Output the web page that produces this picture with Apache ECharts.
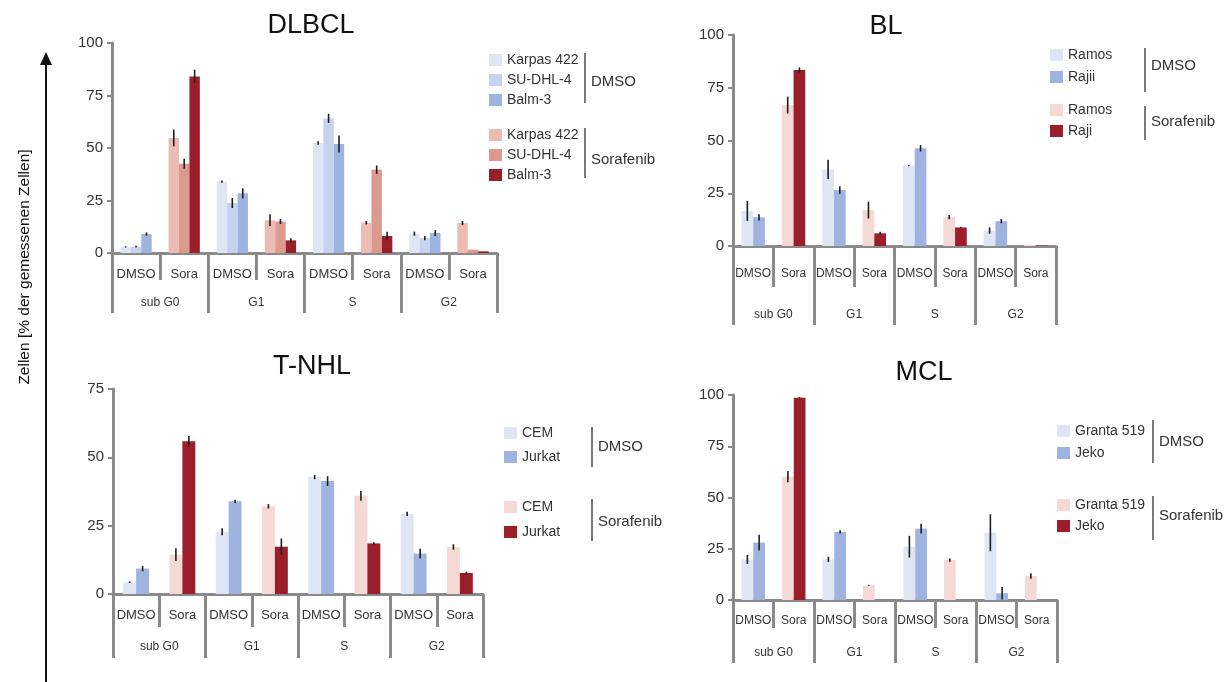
<!DOCTYPE html>
<html>
<head>
<meta charset="utf-8">
<script src="https://cdn.jsdelivr.net/npm/echarts@6/dist/echarts.min.js"></script>
<style>
  html, body { margin: 0; padding: 0; background: #ffffff; }
  #chart { width: 1229px; height: 682px; }
</style>
</head>
<body>
<div id="chart"></div>
<script>
// ---- shared categories ----
const phases = ['sub G0', 'G1', 'S', 'G2'];
const treatments = ['DMSO', 'Sora'];
const yTicksFull = [0, 25, 50, 75, 100];
const yTicksTnhl = [0, 25, 50, 75];

// ---- DLBCL (values per cell line, per phase: sub G0, G1, S, G2) ----
const dlbclLines = ['Karpas 422', 'SU-DHL-4', 'Balm-3'];
const dlbclDmso = [[2.9, 34.0, 52.4, 9.2], [3.0, 23.8, 64.1, 7.1], [9.0, 28.4, 51.9, 9.5]];
const dlbclDmsoErr = [[0.3, 0.5, 0.8, 1.0], [0.4, 2.4, 2.2, 1.0], [0.8, 2.4, 4.0, 1.4]];
const dlbclSora = [[54.8, 15.6, 14.4, 14.3], [42.5, 15.0, 39.7, 1.6], [84.1, 6.0, 8.1, 0.8]];
const dlbclSoraErr = [[4.0, 2.8, 0.8, 1.0], [2.4, 1.2, 2.0, 0], [3.2, 1.0, 2.0, 0]];

// ---- BL ----
const blDmsoLines = ['Ramos', 'Rajii'];
const blSoraLines = ['Ramos', 'Raji'];
const blDmso = [[16.6, 36.3, 38.1, 7.3], [13.6, 26.5, 46.3, 11.8]];
const blDmsoErr = [[4.7, 4.6, 0.3, 1.5], [1.5, 1.8, 1.5, 1.0]];
const blSora = [[66.8, 17.0, 13.7, 0.6], [83.4, 6.0, 8.8, 0.2]];
const blSoraErr = [[4.0, 4.0, 1.0, 0], [1.2, 0.8, 0.3, 0]];

// ---- T-NHL ----
const tnhlLines = ['CEM', 'Jurkat'];
const tnhlDmso = [[4.3, 22.8, 42.8, 29.3], [9.3, 33.9, 41.3, 14.8]];
const tnhlDmsoErr = [[0.3, 1.3, 0.8, 0.8], [1.0, 0.6, 1.8, 1.8]];
const tnhlSora = [[14.4, 32.1, 35.9, 17.2], [55.9, 17.3, 18.5, 7.7]];
const tnhlSoraErr = [[2.3, 0.8, 1.8, 1.0], [1.9, 3.0, 0.4, 0.5]];

// ---- MCL ----
const mclLines = ['Granta 519', 'Jeko'];
const mclDmso = [[19.8, 19.8, 26.0, 32.8], [28.0, 33.2, 34.8, 3.3]];
const mclDmsoErr = [[2.2, 1.3, 5.3, 9.0], [3.8, 0.8, 2.4, 3.0]];
const mclSora = [[60.2, 7.2, 19.5, 11.7], [98.7, 0, 0, 0]];
const mclSoraErr = [[2.7, 0.3, 0.8, 1.3], [0.3, 0, 0, 0]];

// ---- palette ----
const BLUE_1 = '#dfe5f4', BLUE_2 = '#c6d2ee', BLUE_3 = '#9fb3e0';
const RED_1 = '#f5d9d5', RED_DL1 = '#ecbbb2', RED_DL2 = '#dc998f', RED_3 = '#9b1f2b';
const AXIS_GREY = '#8a8a8a';
const SANS = "'Liberation Sans', Arial, sans-serif";

// panel descriptions: data references + geometry of each plot area
const panels = [
  { key: 'DLBCL', title: 'DLBCL', titleX: 311, titleY: 26,
    dmsoLines: dlbclLines, soraLines: dlbclLines,
    dmso: dlbclDmso, dmsoErr: dlbclDmsoErr, sora: dlbclSora, soraErr: dlbclSoraErr,
    dmsoColors: [BLUE_1, BLUE_2, BLUE_3], soraColors: [RED_DL1, RED_DL2, RED_3],
    yMax: 100, yTicks: yTicksFull,
    grid: { left: 112, top: 43, width: 385, height: 210 },
    gap: 0.35, innerTick: 27, outerTick: 60, innerMargin: 15, outerMargin: 44, innerFont: 13,
    legendLeft: 489, legendDmso: { top: 53, gap: 6 }, legendSora: { top: 128, gap: 6 },
    bracketX: 585, bracketDmso: [53, 103, 82], bracketSora: [128, 178, 160] },
  { key: 'BL', title: 'BL', titleX: 886, titleY: 27,
    dmsoLines: blDmsoLines, soraLines: blSoraLines,
    dmso: blDmso, dmsoErr: blDmsoErr, sora: blSora, soraErr: blSoraErr,
    dmsoColors: [BLUE_1, BLUE_3], soraColors: [RED_1, RED_3],
    yMax: 100, yTicks: yTicksFull,
    grid: { left: 733, top: 35, width: 323, height: 211 },
    gap: 0.42, innerTick: 41, outerTick: 79, innerMargin: 22, outerMargin: 63, innerFont: 12,
    legendLeft: 1050, legendDmso: { top: 48, gap: 8 }, legendSora: { top: 103, gap: 7 },
    bracketX: 1145, bracketDmso: [48, 92, 66], bracketSora: [106, 140, 122] },
  { key: 'TNHL', title: 'T-NHL', titleX: 312, titleY: 367,
    dmsoLines: tnhlLines, soraLines: tnhlLines,
    dmso: tnhlDmso, dmsoErr: tnhlDmsoErr, sora: tnhlSora, soraErr: tnhlSoraErr,
    dmsoColors: [BLUE_1, BLUE_3], soraColors: [RED_1, RED_3],
    yMax: 75, yTicks: yTicksTnhl,
    grid: { left: 113, top: 389, width: 370, height: 205 },
    gap: 0.44, innerTick: 33, outerTick: 64, innerMargin: 15, outerMargin: 47, innerFont: 13,
    legendLeft: 504, legendDmso: { top: 426, gap: 10 }, legendSora: { top: 500, gap: 11 },
    bracketX: 592, bracketDmso: [427, 467, 447], bracketSora: [499, 541, 522] },
  { key: 'MCL', title: 'MCL', titleX: 924, titleY: 373,
    dmsoLines: mclLines, soraLines: mclLines,
    dmso: mclDmso, dmsoErr: mclDmsoErr, sora: mclSora, soraErr: mclSoraErr,
    dmsoColors: [BLUE_1, BLUE_3], soraColors: [RED_1, RED_3],
    yMax: 100, yTicks: yTicksFull,
    grid: { left: 733, top: 395, width: 324, height: 205 },
    gap: 0.42, innerTick: 28, outerTick: 63, innerMargin: 15, outerMargin: 47, innerFont: 12,
    legendLeft: 1057, legendDmso: { top: 424, gap: 8 }, legendSora: { top: 498, gap: 7 },
    bracketX: 1153, bracketDmso: [420, 463, 442], bracketSora: [496, 540, 516] }
];

// treatment slots on the inner axis: sub G0|DMSO, sub G0|Sora, G1|DMSO, ...
const slotCats = [];
phases.forEach(p => treatments.forEach(t => slotCats.push(p + '|' + t)));

const grids = [], xAxes = [], yAxes = [], series = [], legends = [], graphics = [];
const labelOf = {};

// vertical error bar drawn at the centre of bar number `slot` inside its category
function errorBarRenderer(nLines, gapFrac) {
  return function (params, api) {
    const cat = api.value(0), slot = api.value(1), v = api.value(2), e = api.value(3);
    if (!(e > 0)) return null;
    const band = api.size([1, 0])[0];
    const used = band * (1 - gapFrac);
    const bw = used / nLines;
    const x = api.coord([cat, v])[0] - used / 2 + bw * (slot + 0.5);
    const yTop = api.coord([cat, v + e])[1];
    const yBot = api.coord([cat, Math.max(0, v - e)])[1];
    return { type: 'line', shape: { x1: x, y1: yTop, x2: x, y2: yBot },
             style: { stroke: '#1e1e1e', lineWidth: 1.6 } };
  };
}

panels.forEach((pn, g) => {
  grids.push(Object.assign({ outerBoundsMode: 'none', containLabel: false }, pn.grid));

  // inner axis: DMSO / Sora slots
  xAxes.push({
    type: 'category', gridIndex: g, position: 'bottom', data: slotCats,
    axisLine: { show: true, lineStyle: { color: AXIS_GREY, width: 3 } },
    axisTick: { show: true, interval: 0, length: pn.innerTick, lineStyle: { color: AXIS_GREY, width: 3 } },
    axisLabel: { interval: 0, margin: pn.innerMargin, fontSize: pn.innerFont, fontFamily: SANS,
                 color: '#333', formatter: v => v.split('|')[1] },
    splitLine: { show: false }
  });
  // outer axis: cell-cycle phases
  xAxes.push({
    type: 'category', gridIndex: g, position: 'bottom', data: phases,
    axisLine: { show: false },
    axisTick: { show: true, interval: 0, length: pn.outerTick, lineStyle: { color: AXIS_GREY, width: 3 } },
    axisLabel: { interval: 0, margin: pn.outerMargin, fontSize: 12, fontFamily: SANS, color: '#333' },
    splitLine: { show: false }
  });
  yAxes.push({
    type: 'value', gridIndex: g, min: 0, max: pn.yMax, interval: 25,
    axisLine: { show: true, lineStyle: { color: AXIS_GREY, width: 3 } },
    axisTick: { show: true, length: 5, lineStyle: { color: AXIS_GREY, width: 2 } },
    axisLabel: { margin: 9, fontSize: 15, fontFamily: SANS, color: '#333',
                 formatter: v => (pn.yTicks.indexOf(v) >= 0 ? String(v) : '') },
    splitLine: { show: false }
  });

  const xi = 2 * g;
  const n = pn.dmsoLines.length;
  const dmsoNames = [], soraNames = [];
  const errData = [];

  for (let i = 0; i < n; i++) {
    const dName = pn.key + '|DMSO|' + pn.dmsoLines[i];
    const sName = pn.key + '|Sora|' + pn.soraLines[i];
    labelOf[dName] = pn.dmsoLines[i];
    labelOf[sName] = pn.soraLines[i];
    dmsoNames.push(dName);
    soraNames.push(sName);

    const dData = slotCats.map((c, k) => (k % 2 === 0 ? pn.dmso[i][k / 2] : '-'));
    const sData = slotCats.map((c, k) => (k % 2 === 1 ? pn.sora[i][(k - 1) / 2] : '-'));
    const common = { type: 'bar', xAxisIndex: xi, yAxisIndex: g, stack: pn.key + '_' + i,
                     barCategoryGap: (pn.gap * 100) + '%', barGap: '0%', silent: true };
    series.push(Object.assign({ name: dName, data: dData, itemStyle: { color: pn.dmsoColors[i] } }, common));
    series.push(Object.assign({ name: sName, data: sData, itemStyle: { color: pn.soraColors[i] } }, common));

    phases.forEach((p, k) => {
      errData.push([2 * k, i, pn.dmso[i][k], pn.dmsoErr[i][k]]);
      errData.push([2 * k + 1, i, pn.sora[i][k], pn.soraErr[i][k]]);
    });
  }

  series.push({
    type: 'custom', xAxisIndex: xi, yAxisIndex: g, z: 5, silent: true,
    encode: { x: 0, y: 2 },
    renderItem: errorBarRenderer(n, pn.gap),
    data: errData
  });

  const legendBase = {
    orient: 'vertical', left: pn.legendLeft, padding: 0, itemWidth: 13, itemHeight: 12,
    icon: 'rect', selectedMode: false,
    textStyle: { fontSize: 14, fontFamily: SANS, color: '#333' },
    formatter: name => labelOf[name]
  };
  legends.push(Object.assign({}, legendBase, { top: pn.legendDmso.top, itemGap: pn.legendDmso.gap, data: dmsoNames }));
  legends.push(Object.assign({}, legendBase, { top: pn.legendSora.top, itemGap: pn.legendSora.gap, data: soraNames }));

  // panel title
  graphics.push({ type: 'text', x: pn.titleX, y: pn.titleY,
    style: { text: pn.title, fontSize: 27, fontFamily: SANS, fill: '#111', align: 'center', verticalAlign: 'middle' } });

  // treatment brackets beside the legends
  [[pn.bracketDmso, 'DMSO'], [pn.bracketSora, 'Sorafenib']].forEach(([b, txt]) => {
    graphics.push({ type: 'line', shape: { x1: pn.bracketX, y1: b[0], x2: pn.bracketX, y2: b[1] },
                    style: { stroke: '#7a7a7a', lineWidth: 2 } });
    graphics.push({ type: 'text', x: pn.bracketX + 6, y: b[2],
                    style: { text: txt, fontSize: 15, fontFamily: SANS, fill: '#333', align: 'left', verticalAlign: 'middle' } });
  });
});

// shared vertical axis arrow and caption
graphics.push({ type: 'line', shape: { x1: 46, y1: 62, x2: 46, y2: 682 }, style: { stroke: '#111', lineWidth: 2 } });
graphics.push({ type: 'polygon', shape: { points: [[46, 52], [40, 65], [52, 65]] }, style: { fill: '#111' } });
graphics.push({ type: 'text', x: 25, y: 267, rotation: Math.PI / 2,
  style: { text: 'Zellen [% der gemessenen Zellen]', fontSize: 15.5, fontFamily: SANS,
           fill: '#111', align: 'center', verticalAlign: 'middle' } });

const chart = echarts.init(document.getElementById('chart'), null, { renderer: 'canvas' });
chart.setOption({
  backgroundColor: '#ffffff',
  animation: false,
  grid: grids,
  xAxis: xAxes,
  yAxis: yAxes,
  legend: legends,
  series: series,
  graphic: graphics
});
</script>
</body>
</html>
